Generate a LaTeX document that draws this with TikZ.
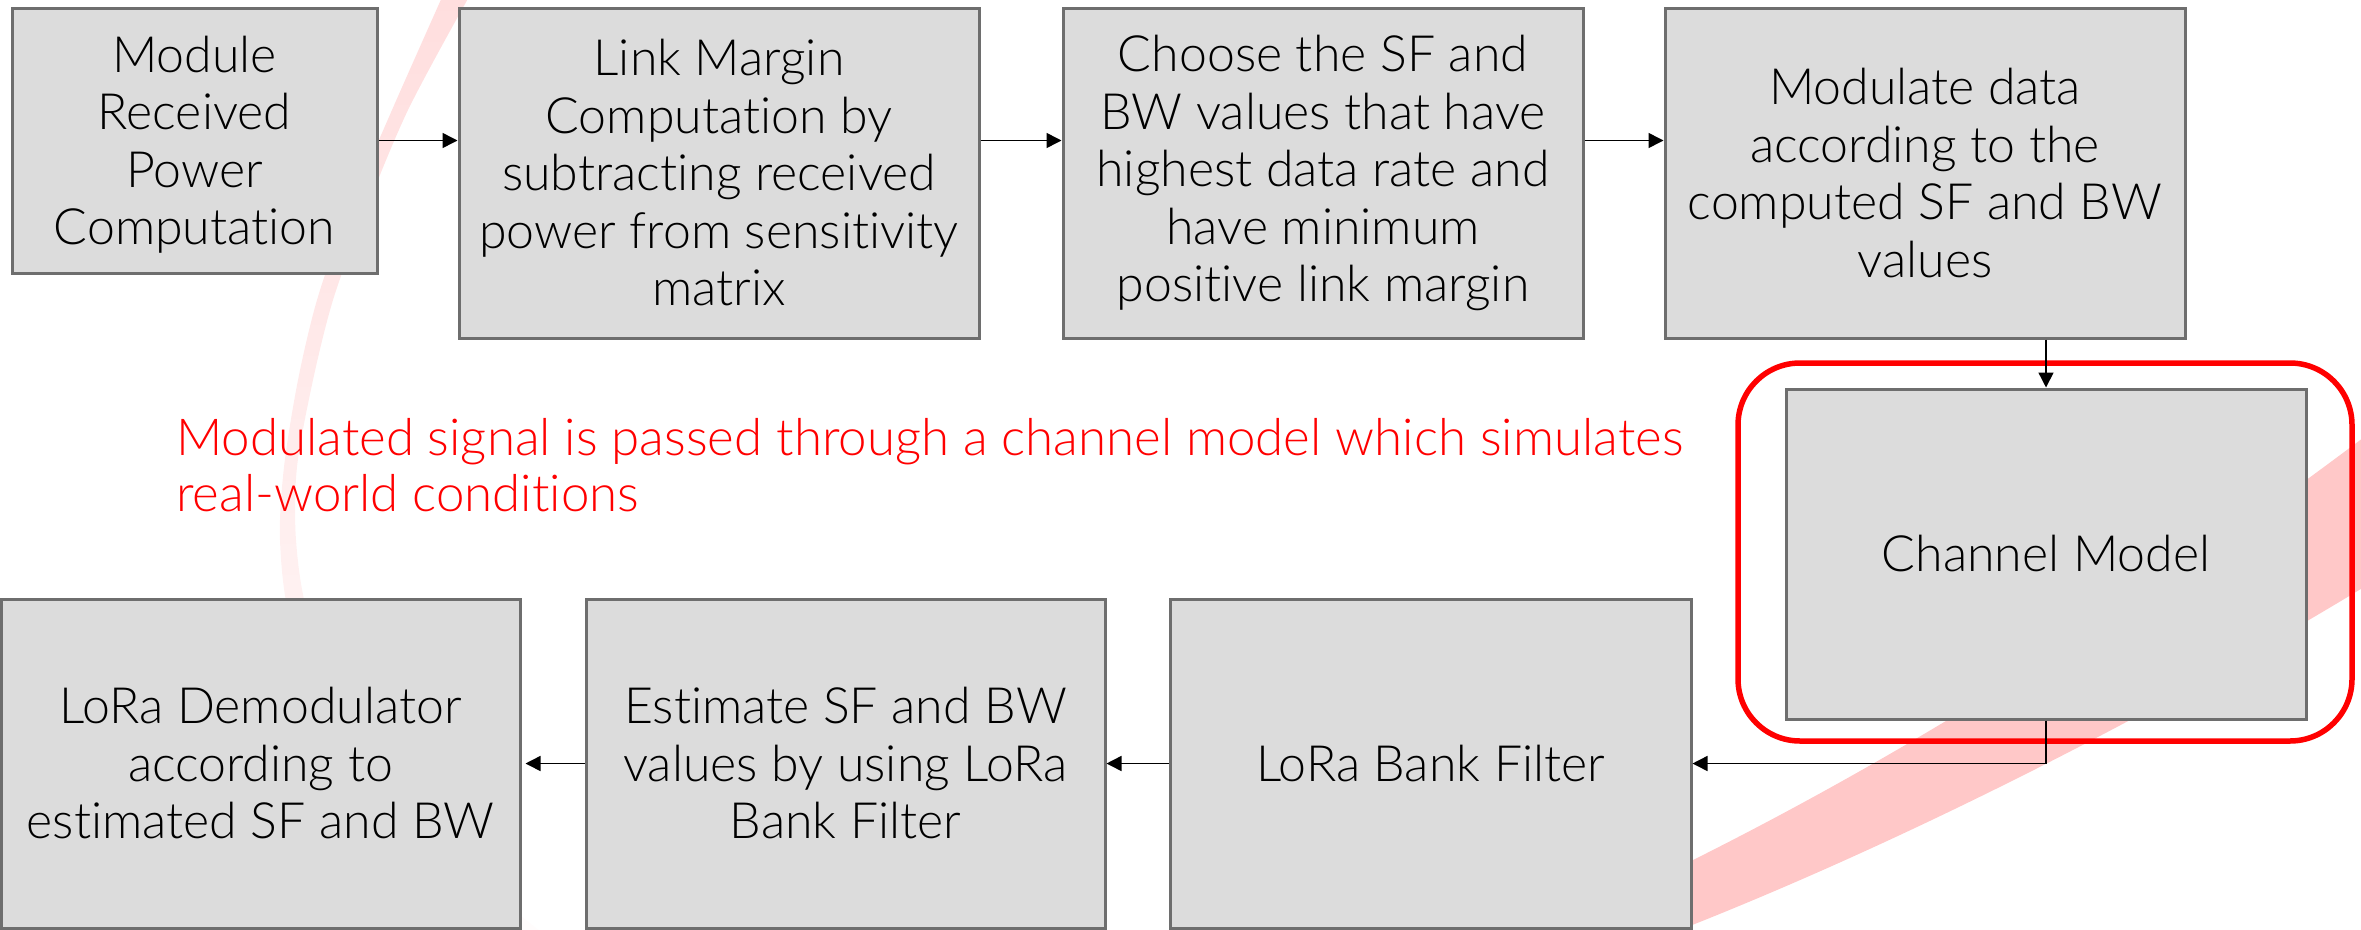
\documentclass[tikz,border=0pt]{standalone}
\usepackage{fontspec}
\IfFontExistsTF{Lato Light}{\setmainfont{Lato Light}[Ligatures=NoCommon]}{\setmainfont{Lato}[Ligatures=NoCommon]}
\usetikzlibrary{arrows.meta}
\definecolor{boxfill}{HTML}{DCDCDC}
\definecolor{boxline}{HTML}{6E6E6E}
\definecolor{bandpink}{RGB}{255,200,200}
\definecolor{fadeA}{RGB}{255,222,222}
\definecolor{fadeB}{RGB}{255,252,252}
\begin{document}
\begin{tikzpicture}[x=1pt,y=-1pt,
  blk/.style={draw=boxline, fill=boxfill, line width=3pt, align=center, inner sep=0pt,
    minimum width=520pt, minimum height=330pt, font=\fontsize{50}{57.5}\selectfont},
  arr/.style={line width=1.5pt, -{Triangle[length=15pt,width=15pt]}},
  hilite/.style={draw=red, line width=5.5pt, rounded corners=62pt, inner sep=0pt},
  note/.style={text=red, align=left, inner sep=0pt, font=\fontsize{51}{56}\selectfont}
]
\useasboundingbox (0,0) rectangle (2361,929);
\begin{scope}
\clip (0,0) rectangle (2361,929);
% faint left swoosh
\shade[top color=fadeA, bottom color=fadeB]
  plot[smooth] coordinates {(443,-5) (392,110) (345,220) (317,300) (298,380) (284,467) (280,540) (290,620) (330,730) (420,850) (520,935)}
  -- plot[smooth] coordinates {(545,935) (440,845) (350,725) (308,615) (296,540) (297,467) (313,380) (333,300) (362,220) (408,110) (470,-5)}
  -- cycle;
% pink band lower right
\fill[bandpink] (1600,905) .. controls (1900,765) and (2150,600) .. (2400,410)
  -- (2400,565) .. controls (2150,720) and (1850,870) .. (1600,960) -- cycle;
\end{scope}

\node[hilite, minimum width=614pt, minimum height=378pt] (hl) at (2045,552) {};

\node[blk, minimum width=365pt, minimum height=265pt, text depth=0pt] (b1) at (194.5,140.5) {Module\\Received\\Power\\Computation};
\node[blk] (b2) at (719,173) {Link Margin\\Computation by\\subtracting received\\power from sensitivity\\matrix};
\node[blk] (b3) at (1323,173) {Choose the SF and\\BW values that have\\highest data rate and\\have minimum\\positive link margin};
\node[blk] (b4) at (1925,173) {Modulate data\\according to the\\computed SF and BW\\values};
\node[blk] (chan) at (2046,554) {Channel Model};
\node[blk, minimum width=521pt, minimum height=329pt] (bank) at (1430.5,763.5) {LoRa Bank Filter};
\node[blk, minimum width=519pt, minimum height=329pt] (est) at (845.5,763.5) {Estimate SF and BW\\values by using LoRa\\Bank Filter};
\node[blk, minimum width=519pt, minimum height=329pt] (dem) at (260.5,763.5) {LoRa Demodulator\\according to\\estimated SF and BW};

\node[note, anchor=base west] (txt) at (176,511) {Modulated signal is passed through a channel model which simulates\\real-world conditions};

\draw[arr] (b1.east) -- (b1.east -| b2.west);
\draw[arr] (b1.east -| b2.east) -- (b1.east -| b3.west);
\draw[arr] (b1.east -| b3.east) -- (b1.east -| b4.west);
\draw[arr] (b4.south -| chan.north) -- (chan.north);
\draw[arr] (chan.south) |- (bank.east);
\draw[arr] (bank.west) -- (est.east);
\draw[arr, shorten >=4pt] (est.west) -- (dem.east);
\end{tikzpicture}
\end{document}
